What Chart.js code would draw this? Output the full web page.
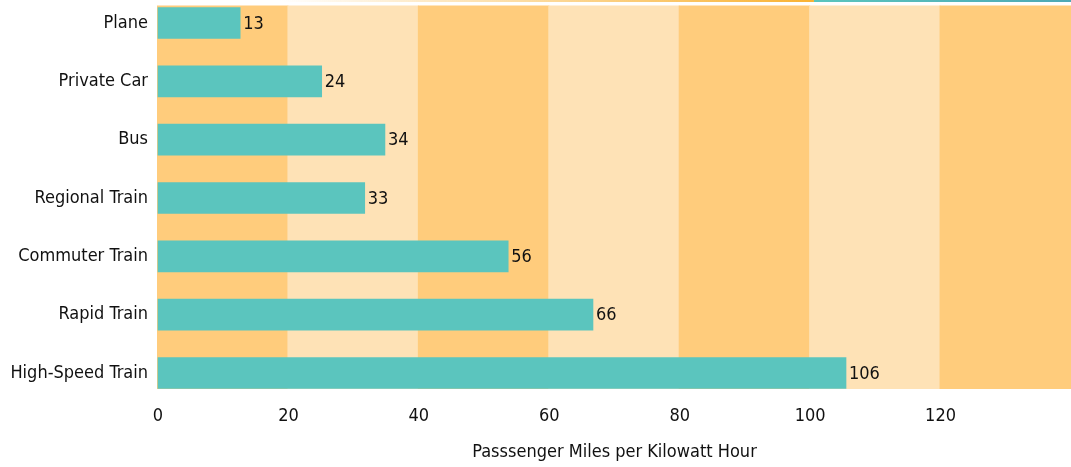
<!DOCTYPE html>
<html>
<head>
<meta charset="utf-8">
<script src="https://cdn.jsdelivr.net/npm/chart.js@4"></script>
<style>
  html, body { margin: 0; padding: 0; background: #fff; }
  #wrap { width: 1071px; height: 467px; position: relative; }
</style>
</head>
<body>
<div id="wrap"><canvas id="modeChart"></canvas></div>
<script>
const modes = ["Plane", "Private Car", "Bus", "Regional Train", "Commuter Train", "Rapid Train", "High-Speed Train"];
// bar lengths as drawn, and the numbers printed beside them
const milesPerKwh = [12.6, 25.1, 34.8, 31.7, 53.7, 66.7, 105.5];
const valueText = ["13", "24", "34", "33", "56", "66", "106"];
const xTicks = [0, 20, 40, 60, 80, 100, 120];

const FONT = "'DejaVu Sans Condensed', 'Liberation Sans', sans-serif";
const FSIZE = 18;

const bands = {
  id: "bands",
  beforeDatasetsDraw(chart) {
    const { ctx, scales: { x, y } } = chart;
    const top = y.getPixelForValue(0) - 17.5;
    const bottom = y.getPixelForValue(modes.length - 1) + 16;
    ctx.save();
    for (let v = 0, i = 0; v < x.max; v += 20, i++) {
      const x0 = x.getPixelForValue(v) - 1;
      const x1 = x.getPixelForValue(Math.min(v + 20, x.max)) - 1;
      ctx.fillStyle = i % 2 === 0 ? "#FFCC7C" : "#FEE2B6";
      ctx.fillRect(x0, top, x1 - x0 + 1, bottom - top);
    }
    // thin accent line along the top edge
    const w = chart.width;
    const g = ctx.createLinearGradient(w * 0.26, 0, w * 0.76, 0);
    g.addColorStop(0, "rgba(249,178,51,0)");
    g.addColorStop(1, "#F9B233");
    ctx.fillStyle = g;
    ctx.fillRect(w * 0.26, 0, w * 0.5, 2);
    const g2 = ctx.createLinearGradient(w * 0.76, 0, w, 0);
    g2.addColorStop(0, "#5BC5BE");
    g2.addColorStop(1, "#4FA9B5");
    ctx.fillStyle = g2;
    ctx.fillRect(w * 0.76, 0, w * 0.24, 2);
    ctx.restore();
  }
};

const valueLabels = {
  id: "valueLabels",
  afterDatasetsDraw(chart) {
    const { ctx } = chart;
    const meta = chart.getDatasetMeta(0);
    ctx.save();
    ctx.font = FSIZE + "px " + FONT;
    ctx.fillStyle = "#111";
    ctx.textAlign = "left";
    ctx.textBaseline = "middle";
    meta.data.forEach((bar, i) => {
      ctx.fillText(valueText[i], bar.x + 3, bar.y + 1);
    });
    ctx.restore();
  }
};

const ctx = document.getElementById("modeChart").getContext("2d");
new Chart(ctx, {
  type: "bar",
  data: {
    labels: modes,
    datasets: [
      {
        data: milesPerKwh,
        backgroundColor: "#5BC5BE",
        borderWidth: 0,
        barThickness: 31,
        clip: false,
      },
    ],
  },
  options: {
    indexAxis: "y",
    responsive: true,
    maintainAspectRatio: false,
    animation: false,
    layout: { padding: { top: 23, right: 0, left: 0, bottom: 0 } },
    plugins: { legend: { display: false }, tooltip: { enabled: false } },
    scales: {
      x: {
        min: 0,
        max: 140,
        afterBuildTicks: (s) => { s.ticks = xTicks.map((v) => ({ value: v })); },
        afterFit: (s) => { s.height = 94; },
        grid: { display: false },
        border: { display: false },
        ticks: { color: "#111", padding: 25, font: { family: FONT, size: FSIZE } },
        title: {
          display: true,
          text: "Passsenger Miles per Kilowatt Hour",
          color: "#111",
          padding: { top: 0, bottom: 4 },
          font: { family: FONT, size: FSIZE },
        },
      },
      y: {
        offset: false,
        afterFit: (s) => { s.width = 158; },
        grid: { display: false },
        border: { display: false },
        ticks: { color: "#111", padding: 2, font: { family: FONT, size: FSIZE } },
      },
    },
  },
  plugins: [bands, valueLabels],
});
</script>
</body>
</html>
